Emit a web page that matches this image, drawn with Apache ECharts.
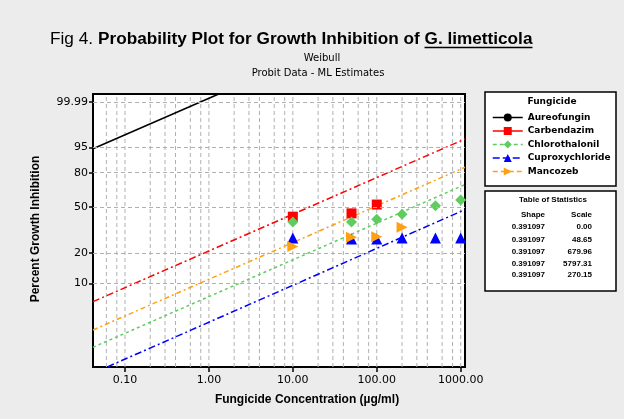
<!DOCTYPE html>
<html><head><meta charset="utf-8">
<script src="https://cdn.jsdelivr.net/npm/echarts@6/dist/echarts.min.js"></script>
<style>html,body{margin:0;padding:0;background:#ececec}#c{width:624px;height:419px}</style>
</head><body><div id="c"></div>
<script>
// ---- data ----
const fungicides = ['Aureofungin', 'Carbendazim', 'Chlorothalonil', 'Cuproxychloride', 'Mancozeb'];
const colors = ['#000000', '#ff0000', '#5fcc5f', '#0000ff', '#ffa010'];
const symbols = ['circle', 'rect', 'diamond', 'triangle', 'triangle'];
const symbolRotations = [0, 0, 0, 0, -90];
// fitted Weibull lines: endpoints [concentration, percent]
const fitAureofungin = [[0.0416, 94.5], [1.29, 99.9985]];
const fitCarbendazim = [[0.0416, 6.5], [1125, 97.5]];
const fitChlorothalonil = [[0.0416, 2.16], [1125, 69.9]];
const fitCuproxychloride = [[0.0618, 1.34], [1125, 47.7]];
const fitMancozeb = [[0.0416, 3.29], [1125, 84.1]];
// observed points
const concCarbendazim = [10, 50, 100];
const pctCarbendazim = [42, 44.6, 52];
const concChlorothalonil = [10, 50, 100, 200, 500, 1000];
const pctChlorothalonil = [38, 38, 40, 44, 51, 56];
const concCuproxychloride = [10, 50, 100, 200, 500, 1000];
const pctCuproxychloride = [27.5, 27, 27, 27.5, 27.5, 27.5];
const concMancozeb = [10, 50, 100, 200];
const pctMancozeb = [23, 28, 28.2, 34.2];
// axes
const yTickLabels = ['99.99', '95', '80', '50', '20', '10'];
const xTickValues = [0.1, 1, 10, 100, 1000];
const xGridValues = [0.06, 0.08, 0.1, 0.2, 0.3, 0.4, 0.6, 0.8, 1, 2, 3, 4, 6, 8, 10, 20, 30, 40, 60, 80, 100, 200, 300, 400, 600, 800, 1000];
const X_MIN = 0.0416, X_MAX = 1125;
const Y_MIN_PCT = 1.335, Y_MAX_PCT = 99.99859;
// table of statistics
const shapeValues = ['0.391097', '0.391097', '0.391097', '0.391097', '0.391097'];
const scaleValues = ['0.00', '48.65', '679.96', '5797.31', '270.15'];

// ---- Weibull probability scale ----
function weib(p) { return Math.log(-Math.log(1 - p / 100)); }
const Y_MIN = weib(Y_MIN_PCT), Y_MAX = weib(Y_MAX_PCT);
const yTickW = yTickLabels.map(s => weib(parseFloat(s)));
function yLabel(v) {
  for (let i = 0; i < yTickW.length; i++) if (Math.abs(yTickW[i] - v) < 1e-6) return yTickLabels[i];
  return '';
}

const chart = echarts.init(document.getElementById('c'));
const ctx = document.createElement('canvas').getContext('2d');
function tw(t, f) { ctx.font = f; return ctx.measureText(t).width; }

const TF = '"Liberation Sans", Arial, sans-serif';
const boldPart = 'Probability Plot for Growth Inhibition of ';
const species = 'G. limetticola';
let tfs = 16;
tfs = tfs * (533 - 98) / tw(boldPart + species, `bold ${tfs}px ${TF}`);
const boldFont = `bold ${tfs}px ${TF}`;
const speciesX = 98 + tw(boldPart, boldFont);
const speciesEnd = speciesX + tw(species, boldFont);

const fits = [fitAureofungin, fitCarbendazim, fitChlorothalonil, fitCuproxychloride, fitMancozeb];
const dashes = ['solid', [7, 3, 2, 3], [3, 3], [7, 3, 2, 3], [5, 3, 2, 3]];
const legendDashes = ['solid', 'solid', [4, 3], [7, 3], [5, 3]];
const points = [null, [concCarbendazim, pctCarbendazim], [concChlorothalonil, pctChlorothalonil],
  [concCuproxychloride, pctCuproxychloride], [concMancozeb, pctMancozeb]];
const symSizes = [9, 10, 11, 11, 11];

const gridStyle = { color: '#b0b0b0', type: [4, 3], width: 1 };
const series = [{
  type: 'line', name: 'vgrid', silent: true, z: 1, symbol: 'none', animation: false,
  connectNulls: false, lineStyle: gridStyle,
  data: xGridValues.flatMap(v => [[v, Y_MIN], [v, Y_MAX], [v, '-']])
}, {
  type: 'line', name: 'hgrid', data: [], silent: true, z: 1,
  markLine: {
    silent: true, symbol: ['none', 'none'], label: { show: false }, animation: false,
    lineStyle: gridStyle, emphasis: { disabled: true },
    data: yTickW.map(v => ({ yAxis: v }))
  }
}];
fungicides.forEach((name, i) => {
  series.push({
    type: 'line', name, data: fits[i].map(d => [d[0], weib(d[1])]),
    symbol: symbols[i], symbolRotate: symbolRotations[i], symbolSize: symSizes[i], showSymbol: false,
    lineStyle: { color: colors[i], width: 1.5, type: dashes[i] }, itemStyle: { color: colors[i] },
    z: 3, animation: false, silent: true
  });
});
fungicides.forEach((name, i) => {
  if (!points[i]) return;
  series.push({
    type: 'scatter', name,
    data: points[i][0].map((c, j) => [c, weib(points[i][1][j])]),
    symbol: symbols[i], symbolRotate: symbolRotations[i], symbolSize: symSizes[i],
    itemStyle: { color: colors[i], opacity: 1 }, z: 4, animation: false, silent: true
  });
});

const graphic = [
  { type: 'rect', shape: { x: 485, y: 92, width: 131, height: 94 }, style: { fill: '#fff', stroke: '#000', lineWidth: 1.5 }, z: 0 },
  { type: 'rect', shape: { x: 485, y: 191, width: 131, height: 100 }, style: { fill: '#fff', stroke: '#000', lineWidth: 1.5 }, z: 0 },
  { type: 'text', x: 50, y: 39, style: { text: 'Fig 4.', font: `${tfs}px ${TF}`, fill: '#000', verticalAlign: 'middle', textVerticalAlign: 'middle' } },
  { type: 'text', x: 98, y: 39, style: { text: boldPart, font: boldFont, fill: '#000', verticalAlign: 'middle', textVerticalAlign: 'middle' } },
  { type: 'text', x: speciesX, y: 39, style: { text: species, font: boldFont, fill: '#000', verticalAlign: 'middle', textVerticalAlign: 'middle' } },
  { type: 'line', shape: { x1: speciesX, y1: 47.5, x2: speciesEnd, y2: 47.5 }, style: { stroke: '#000', lineWidth: 1.3 } },
  { type: 'text', x: 322, y: 58, style: { text: 'Weibull', font: '10px "DejaVu Sans"', fill: '#000', align: 'center', textAlign: 'center', verticalAlign: 'middle', textVerticalAlign: 'middle' } },
  { type: 'text', x: 318, y: 73, style: { text: 'Probit Data - ML Estimates', font: '10px "DejaVu Sans"', fill: '#000', align: 'center', textAlign: 'center', verticalAlign: 'middle', textVerticalAlign: 'middle' } },
  { type: 'text', x: 36, y: 229, rotation: Math.PI / 2, style: { text: 'Percent Growth Inhibition', font: `bold 12px ${TF}`, fill: '#000', align: 'center', textAlign: 'center', verticalAlign: 'middle', textVerticalAlign: 'middle' } },
  { type: 'text', x: 307, y: 400, style: { text: 'Fungicide Concentration (\u00b5g/ml)', font: `bold 12px ${TF}`, fill: '#000', align: 'center', textAlign: 'center', verticalAlign: 'middle', textVerticalAlign: 'middle' } },
  { type: 'text', x: 552, y: 102, style: { text: 'Fungicide', font: 'bold 9px "DejaVu Sans"', fill: '#000', align: 'center', textAlign: 'center', verticalAlign: 'middle', textVerticalAlign: 'middle' } },
  { type: 'text', x: 553, y: 200, style: { text: 'Table of Statistics', font: `bold 8px ${TF}`, fill: '#000', align: 'center', textAlign: 'center', verticalAlign: 'middle', textVerticalAlign: 'middle' } },
  { type: 'text', x: 545, y: 215, style: { text: 'Shape', font: `bold 8px ${TF}`, fill: '#000', align: 'right', textAlign: 'right', verticalAlign: 'middle', textVerticalAlign: 'middle' } },
  { type: 'text', x: 592, y: 215, style: { text: 'Scale', font: `bold 8px ${TF}`, fill: '#000', align: 'right', textAlign: 'right', verticalAlign: 'middle', textVerticalAlign: 'middle' } }
];
const rowY = [227, 239.5, 251.5, 263.5, 275];
shapeValues.forEach((s, i) => {
  graphic.push({ type: 'text', x: 545, y: rowY[i], style: { text: s, font: `bold 8px ${TF}`, fill: '#000', align: 'right', textAlign: 'right', verticalAlign: 'middle', textVerticalAlign: 'middle' } });
  graphic.push({ type: 'text', x: 592, y: rowY[i], style: { text: scaleValues[i], font: `bold 8px ${TF}`, fill: '#000', align: 'right', textAlign: 'right', verticalAlign: 'middle', textVerticalAlign: 'middle' } });
});

chart.setOption({
  backgroundColor: '#ececec',
  animation: false,
  grid: { left: 93, right: 159, top: 94, bottom: 52, show: true, backgroundColor: '#fff', borderColor: '#000', borderWidth: 2, containLabel: false },
  xAxis: {
    type: 'log', logBase: 10, min: X_MIN, max: X_MAX,
    axisLine: { show: true, onZero: false, lineStyle: { color: '#000', width: 2 } },
    axisTick: { show: true, customValues: xTickValues, length: 5, lineStyle: { color: '#000', width: 1.5 } },
    axisLabel: { customValues: xTickValues, formatter: v => Number(v).toFixed(2), color: '#000', fontFamily: 'DejaVu Sans', fontSize: 11, margin: 8 },
    splitLine: { show: false }, minorTick: { show: false }, minorSplitLine: { show: false }
  },
  yAxis: {
    type: 'value', min: Y_MIN, max: Y_MAX,
    axisLine: { show: true, onZero: false, lineStyle: { color: '#000', width: 2 } },
    axisTick: { show: true, customValues: yTickW, length: 4, lineStyle: { color: '#000', width: 1.5 } },
    axisLabel: { customValues: yTickW, formatter: v => yLabel(v), color: '#000', fontFamily: 'DejaVu Sans', fontSize: 11, margin: 5 },
    splitLine: { show: false }
  },
  legend: {
    data: fungicides.map((n, i) => ({ name: n, lineStyle: { type: legendDashes[i], width: 1.5, color: colors[i] } })),
    orient: 'vertical', left: 492, top: 113, itemWidth: 30, itemHeight: 10, itemGap: 4.5,
    padding: 0, selectedMode: false,
    textStyle: { fontFamily: 'DejaVu Sans', fontWeight: 'bold', fontSize: 9, color: '#000' }
  },
  graphic: graphic,
  series: series
});
</script></body></html>
